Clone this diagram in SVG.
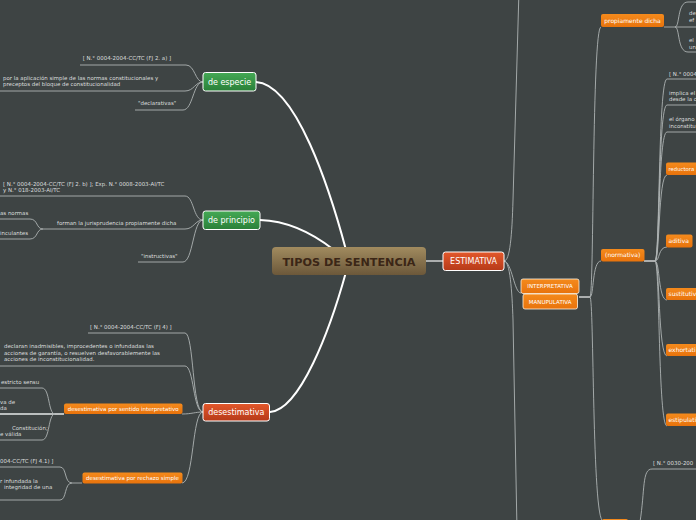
<svg xmlns="http://www.w3.org/2000/svg" width="696" height="520" viewBox="0 0 696 520">
<defs>
<linearGradient id="gC" x1="0" y1="0" x2="0" y2="1"><stop offset="0" stop-color="#a18b5f"/><stop offset="1" stop-color="#6c583a"/></linearGradient>
<linearGradient id="gR" x1="0" y1="0" x2="0" y2="1"><stop offset="0" stop-color="#e3582b"/><stop offset="1" stop-color="#b63a19"/></linearGradient>
<linearGradient id="gG" x1="0" y1="0" x2="0" y2="1"><stop offset="0" stop-color="#44a955"/><stop offset="1" stop-color="#2a8039"/></linearGradient>
<linearGradient id="gO" x1="0" y1="0" x2="0" y2="1"><stop offset="0" stop-color="#f48a1c"/><stop offset="1" stop-color="#e8730c"/></linearGradient>
</defs>
<style>
.bg{fill:#3e4444}
.main{fill:none;stroke:#ffffff;stroke-width:2;stroke-linecap:round}
.ln{fill:none;stroke:#aeb3b3;stroke-width:0.9}
.lw{fill:none;stroke:#e6e8e8;stroke-width:1.3}
.lbl{font-family:"DejaVu Sans",Verdana,sans-serif;font-size:5.45px;fill:#dcdede}
.on{fill:url(#gO)}
.ob{fill:url(#gO);stroke:#fff2e0;stroke-width:0.8}
.ot{font-family:"DejaVu Sans",Verdana,sans-serif;font-size:5.5px;fill:#ffffff}
.ot6{font-family:"DejaVu Sans",Verdana,sans-serif;font-size:6px;fill:#ffffff}
.nt{font-family:"DejaVu Sans",Verdana,sans-serif;font-size:8px;fill:#ffffff;text-anchor:middle}
.bw{stroke:#ffffff;stroke-width:1}
</style>
<rect class="bg" x="0" y="0" width="696" height="520"/>

<g id="connectors">
<path class="main" d="M256,82 C296,84 330,190 346,250"/>
<path class="main" d="M260,220 C290,221 315,235 334,250"/>
<path class="main" d="M270,412 C300,410 330,330 346,272"/>
<path class="lw" d="M426,261 L443,261"/>
<path class="ln" d="M504,261 C510,261 512,235 513,200 L519,-10"/>
<path class="ln" d="M504,261 C510,261 512,290 513,320 L517,530"/>
<path class="ln" d="M504,261 C512,262 514,293 521,293"/>
<path class="lw" d="M579,297 L590,297"/>
<path class="ln" d="M590,297 C594,297 592,27 601,27"/>
<path class="ln" d="M590,297 C594,297 592,261 601,261"/>
<path class="ln" d="M590,297 C594,297 592,520 603,521"/>
<path class="ln" d="M664,27 L696,27"/>
<path class="ln" d="M675,27 C680,27 677,2 688,2 L696,2"/>
<path class="ln" d="M675,27 C680,27 677,52 688,52 L696,52"/>
<path class="lw" d="M644,261 L655,261"/>
<path class="ln" d="M655,261 C660,261 658,79 667,79 L696,79"/>
<path class="ln" d="M655,261 C660,261 658,105 667,105 L696,105"/>
<path class="ln" d="M655,261 C660,261 658,132 667,132 L696,132"/>
<path class="ln" d="M655,261 C660,261 658,175 667,175"/>
<path class="ln" d="M655,261 C660,261 658,247 667,247"/>
<path class="ln" d="M655,261 C660,261 658,300 667,300"/>
<path class="ln" d="M655,261 C660,261 658,356 667,356"/>
<path class="ln" d="M655,261 C660,261 658,426 667,426"/>
<path class="ln" d="M640,522 C645,490 642,469 652,469 L696,469"/>
<path class="ln" d="M203,82 C195,82 195,65 186,65 L80,65"/>
<path class="ln" d="M203,82 C195,82 194,91 185,91 L0,91"/>
<path class="ln" d="M203,82 C193,82 193,110 183,110 L135,110"/>
<path class="ln" d="M203,220 C193,220 194,196 185,196 L0,196"/>
<path class="ln" d="M203,220 C195,220 194,229 185,229 L43,229"/>
<path class="ln" d="M43,229 C36,229 38,219 30,219 L0,219"/>
<path class="ln" d="M43,229 C36,229 38,239 30,239 L0,239"/>
<path class="ln" d="M203,220 C193,220 193,262 183,262 L138,262"/>
<path class="ln" d="M203,412 C192,412 194,333 185,333 L88,333"/>
<path class="ln" d="M203,412 C193,412 194,366 185,366 L0,366"/>
<path class="ln" d="M203,412 C195,412 192,414 182,414"/>
<path class="lw" d="M64,414 L0,414"/>
<path class="ln" d="M55,414 C48,414 50,388 42,388 L0,388"/>
<path class="ln" d="M55,414 C48,414 50,440 42,440 L0,440"/>
<path class="ln" d="M203,412 C192,412 194,483 182,483"/>
<path class="ln" d="M82,483 L72,483"/>
<path class="ln" d="M72,483 C64,483 67,467 60,467 L0,467"/>
<path class="ln" d="M72,483 C64,483 67,500 60,500 L0,500"/>
</g>

<g id="center">
<rect x="272" y="247" width="154" height="28" rx="4" fill="url(#gC)"/>
<text x="349" y="265.5" text-anchor="middle" font-family="'DejaVu Sans',Verdana,sans-serif" font-weight="bold" font-size="11.2px" fill="#3b2616">TIPOS DE SENTENCIA</text>
</g>
<g id="estimativa">
<rect x="443" y="252" width="61" height="18.5" rx="2.5" fill="url(#gR)" class="bw"/>
<text class="nt" x="473.5" y="264.3">ESTIMATIVA</text>
</g>
<g id="de-especie">
<rect x="203" y="72.5" width="53" height="18.5" rx="2.5" fill="url(#gG)" class="bw"/>
<text class="nt" x="229.5" y="84.8">de especie</text>
</g>
<g id="de-principio">
<rect x="203" y="211" width="57" height="18.5" rx="2.5" fill="url(#gG)" class="bw"/>
<text class="nt" x="231.5" y="223.3">de principio</text>
</g>
<g id="desestimativa">
<rect x="203" y="403.5" width="66.5" height="17.5" rx="2.5" fill="url(#gR)" class="bw"/>
<text class="nt" x="236.3" y="415.3">desestimativa</text>
</g>
<g id="interpretativa">
<rect x="521" y="279" width="58" height="14.5" rx="2" class="ob"/>
<text class="ot" x="550" y="288.2" text-anchor="middle">INTERPRETATIVA</text>
</g>
<g id="manupulativa">
<rect x="523" y="294" width="54.5" height="15" rx="2" class="ob"/>
<text class="ot" x="550.2" y="303.5" text-anchor="middle">MANUPULATIVA</text>
</g>
<g id="propiamente-dicha">
<rect x="601" y="14" width="63" height="13" rx="2" class="on"/>
<text class="ot6" x="632.5" y="22.5" text-anchor="middle">propiamente dicha</text>
</g>
<g id="normativa">
<rect x="601" y="249" width="43.5" height="12.5" rx="2" class="on"/>
<text class="ot6" x="622.7" y="257.3" text-anchor="middle">(normativa)</text>
</g>
<g id="sentido-interpretativo">
<rect x="64" y="403.5" width="118.5" height="10.5" rx="2" class="on"/>
<text class="ot" x="123.2" y="410.8" text-anchor="middle">desestimativa por sentido interpretativo</text>
</g>
<g id="rechazo-simple">
<rect x="82.5" y="472.5" width="100" height="11" rx="2" class="on"/>
<text class="ot" x="132.5" y="480" text-anchor="middle">desestimativa por rechazo simple</text>
</g>
<g id="reductora">
<rect x="666" y="162.5" width="40" height="12.5" rx="2" class="on"/>
<text class="ot6" x="668.5" y="170.8" style="font-size:5.3px">reductora</text>
</g>
<g id="aditiva">
<rect x="666" y="234.5" width="26.5" height="13" rx="2" class="on"/>
<text class="ot6" x="668.5" y="243">aditiva</text>
</g>
<g id="sustitutiva">
<rect x="666" y="288" width="40" height="12" rx="2" class="on"/>
<text class="ot6" x="668.5" y="296">sustitutiv</text>
</g>
<g id="exhortativa">
<rect x="666" y="344" width="40" height="12" rx="2" class="on"/>
<text class="ot6" x="668.5" y="352">exhortati</text>
</g>
<g id="estipulativa">
<rect x="666" y="413.5" width="40" height="12.5" rx="2" class="on"/>
<text class="ot6" x="668.5" y="421.8">estipulati</text>
</g>
<g id="bottom-node">
<rect x="602" y="519" width="26" height="10" rx="2" class="on"/>
</g>

<g id="labels">
<text class="lbl" x="82.7" y="60">[ N.° 0004-2004-CC/TC (FJ 2. a) ]</text>
<text class="lbl" x="3" y="79.5">por la aplicación simple de las normas constitucionales y</text>
<text class="lbl" x="3" y="86">preceptos del bloque de constitucionalidad</text>
<text class="lbl" x="138" y="105">"declarativas"</text>
<text class="lbl" x="3" y="186">[ N.° 0004-2004-CC/TC (FJ 2. b) ]; Exp. N.° 0008-2003-AI/TC</text>
<text class="lbl" x="3" y="192">y N.° 018-2003-AI/TC</text>
<text class="lbl" x="0" y="215">as normas</text>
<text class="lbl" x="0" y="234.5">inculantes</text>
<text class="lbl" x="57" y="224.5">forman la jurisprudencia propiamente dicha</text>
<text class="lbl" x="141" y="258">"instructivas"</text>
<text class="lbl" x="90" y="329">[ N.° 0004-2004-CC/TC (FJ 4) ]</text>
<text class="lbl" x="4" y="348">declaran inadmisibles, improcedentes o infundadas las</text>
<text class="lbl" x="4" y="354.5">acciones de garantía, o resuelven desfavorablemente las</text>
<text class="lbl" x="4" y="361">acciones de inconstitucionalidad.</text>
<text class="lbl" x="1" y="384">estricto sensu</text>
<text class="lbl" x="0" y="404">va de</text>
<text class="lbl" x="0" y="409.5">da</text>
<text class="lbl" x="12" y="430">Constitución;</text>
<text class="lbl" x="0" y="436">e válida</text>
<text class="lbl" x="0" y="463">004-CC/TC (FJ 4.1) ]</text>
<text class="lbl" x="0" y="482.5">r infundada la</text>
<text class="lbl" x="4" y="488.5">integridad de una</text>
<text class="lbl" x="689" y="15">de</text>
<text class="lbl" x="689" y="22">ef</text>
<text class="lbl" x="689" y="42">el</text>
<text class="lbl" x="689" y="49">un</text>
<text class="lbl" x="669" y="76">[ N.° 0004</text>
<text class="lbl" x="669" y="95">implica el</text>
<text class="lbl" x="669" y="101">desde la c</text>
<text class="lbl" x="669" y="121">el órgano</text>
<text class="lbl" x="669" y="128">inconstitu</text>
<text class="lbl" x="653" y="465">[ N.° 0030-200</text>
</g>
</svg>
